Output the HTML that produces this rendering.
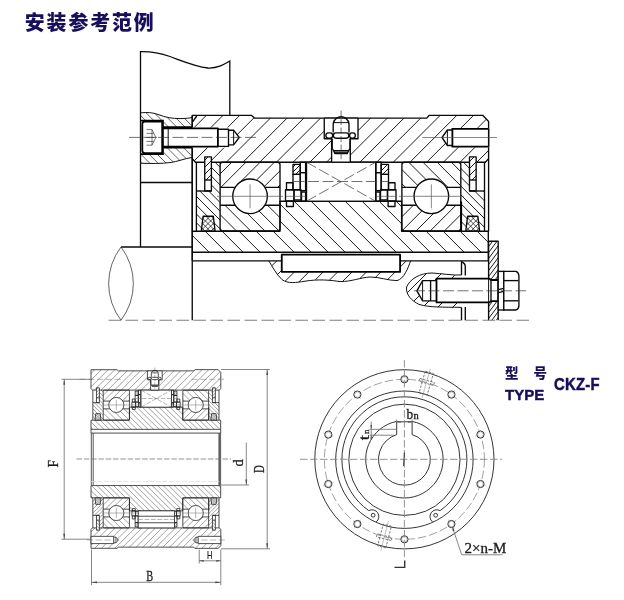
<!DOCTYPE html>
<html lang="zh-CN"><head><meta charset="utf-8"><title>安装参考范例 CKZ-F</title>
<style>
html,body{margin:0;padding:0;background:#fff;}
body{width:624px;height:600px;overflow:hidden;position:relative;font-family:"Liberation Sans","Noto Sans CJK SC",sans-serif;}
svg{position:absolute;left:0;top:0;display:block;will-change:transform;}
.k{fill:none;stroke:#0a0a0a;stroke-width:1.35;stroke-linejoin:round;stroke-linecap:butt}
.kw{fill:#fff;stroke:#0a0a0a;stroke-width:1.35}
.t{fill:none;stroke:#111;stroke-width:1.0}
.w{fill:#fff;stroke:none}
.h{fill:none;stroke:#111;stroke-width:0.95}
.h2{fill:none;stroke:#111;stroke-width:0.75}
.c{fill:none;stroke:#808080;stroke-width:1.05;stroke-dasharray:12.5 4.5}
.c2{fill:none;stroke:#555;stroke-width:0.7}
.d{fill:none;stroke:#333;stroke-width:0.7;stroke-dasharray:11 3.5}
.d2{fill:none;stroke:#333;stroke-width:0.7;stroke-dasharray:6 2.5}
.k2{fill:none;stroke:#0a0a0a;stroke-width:1.3}
.h3{fill:none;stroke:#222;stroke-width:0.7}
.kk{fill:none;stroke:#000;stroke-width:1.8}
.kkw{fill:#fff;stroke:#000;stroke-width:1.8;stroke-linejoin:round}
.t2{fill:none;stroke:#222;stroke-width:0.7}
.t3{fill:none;stroke:#222;stroke-width:0.6}
.sa .k,.sa .kk,.sa .k2{stroke-width:1.8;stroke:#202020}
.sa .kw,.sa .kkw{stroke-width:1.8;stroke:#202020}
.sa .t,.sa .t2,.sa .t3{stroke-width:1.5;stroke:#333}
.sa .h{stroke-width:1.15;stroke:#444}
.sa .h2{stroke-width:0.9;stroke:#444}
.sa .c,.sa .c2,.sa .d,.sa .d2{stroke-width:1.1;stroke:#666}
.sa .c{stroke-dasharray:14 6}
.sk{fill:none;stroke:#444;stroke-width:0.9}
.sk2{fill:none;stroke:#555;stroke-width:1.5}
.sg{fill:none;stroke:#ddd;stroke-width:0.7;stroke-dasharray:5 1.5}
.sc{fill:none;stroke:#777;stroke-width:0.8;stroke-dasharray:5.5 1.8}
.dm{fill:none;stroke:#707070;stroke-width:0.85}
.af{fill:#444;stroke:none}
.lb{font-family:"Liberation Serif",serif;fill:#1a1a1a;stroke:#1a1a1a;stroke-width:0.3}
.lbs{font-family:"Liberation Sans",sans-serif;fill:#1a1a1a;stroke:#1a1a1a;stroke-width:0.2}
.fk{fill:none;stroke:#2a2a2a;stroke-width:0.95}
.fkw{fill:#fff;stroke:#2a2a2a;stroke-width:0.95}
.fg{fill:none;stroke:#888;stroke-width:0.5}
.fd{fill:none;stroke:#777;stroke-width:0.7;stroke-dasharray:8.5 3}
.fh{fill:none;stroke:#555;stroke-width:0.7;stroke-dasharray:2.4 1.3}
.fc{fill:none;stroke:#888;stroke-width:0.9;stroke-dasharray:7.5 2.5}
.fm{fill:none;stroke:#333;stroke-width:1.4}
.ttl{position:absolute;left:24.8px;top:8.9px;height:26px;line-height:26px;font-size:19.9px;font-weight:900;color:#170f5a;letter-spacing:1.9px;white-space:nowrap;font-family:"Noto Sans CJK SC","Liberation Sans",sans-serif}
.ty1{position:absolute;left:505px;top:362px;height:20px;line-height:20px;font-size:13.5px;font-weight:900;color:#170f5a;white-space:nowrap;font-family:"Noto Sans CJK SC","Liberation Sans",sans-serif}
.ty1.b{left:533.5px}
.ty2{position:absolute;left:505px;top:385px;height:20px;line-height:20px;font-size:15px;font-weight:bold;color:#170f5a;white-space:nowrap;font-family:"Liberation Sans",sans-serif;-webkit-text-stroke:0.45px #170f5a}
.ty3{position:absolute;left:554px;top:374px;height:22px;line-height:22px;font-size:17px;font-weight:bold;color:#170f5a;white-space:nowrap;font-family:"Liberation Sans",sans-serif;transform-origin:0 50%;transform:scaleX(0.875);-webkit-text-stroke:0.5px #170f5a;letter-spacing:0.3px}
</style></head>
<body>
<svg width="624" height="600" viewBox="0 0 624 600">
<g id="install"><path class="k2" d="M140.5 247 L140.5 51.7 C150 51.5 160 53 170 56.5 C185 62 195 66.5 208 68 C217 68.5 223 65 229.8 61 L229.8 115.4"/><line class="k2" x1="140.5" y1="182.5" x2="192.25" y2="182.5"/><clipPath id="h1"><polygon points="140.5,112.9 147,112.3 153,112.8 158,114.5 166,117.3 172,118.4 180,118.6 186,118.4 192.25,117.6 192.25,127.2 162.9,127.2 162.9,120.6 140.5,120.6"/></clipPath><g clip-path="url(#h1)"><path class="h3" d="M128.2 111.3L145.1 128.2M136.4 111.3L153.3 128.2M144.6 111.3L161.5 128.2M152.8 111.3L169.7 128.2M161 111.3L177.9 128.2M169.2 111.3L186.1 128.2M177.4 111.3L194.3 128.2M185.6 111.3L202.5 128.2"/></g><clipPath id="h2"><polygon points="140.5,154.1 162.9,154.1 162.9,147.7 192.25,147.7 192.25,157.4 184,158.8 178,161.4 170,162.6 162,163.4 150,163.6 140.5,163.2"/></clipPath><g clip-path="url(#h2)"><path class="h3" d="M125.1 146.7L143 164.6M133.3 146.7L151.2 164.6M141.5 146.7L159.4 164.6M149.7 146.7L167.6 164.6M157.9 146.7L175.8 164.6M166.1 146.7L184 164.6M174.3 146.7L192.2 164.6M182.5 146.7L200.4 164.6M190.7 146.7L208.6 164.6"/></g><path class="t" d="M140.5 112.9 C147 112 153 112.6 158 114.5 C166 117.5 172 118.6 180 118.6 C186 118.6 189 118 192.25 117.6"/><path class="t" d="M140.5 163.2 C150 163.6 162 163.6 170 162.6 C178 161.6 184 158.6 192.25 157.4"/><polyline class="kk" points="140.5,120.6 162.9,120.6 162.9,127.2 192.25,127.2"/><polyline class="kk" points="140.5,154.1 162.9,154.1 162.9,147.7 192.25,147.7"/><line class="k" x1="121" y1="247" x2="192.25" y2="247"/><path class="t2" d="M121 247 A60.5 60.5 0 0 0 121 320.25"/><path class="t2" d="M121 247 A60.5 60.5 0 0 1 121 320.25"/><line class="k" x1="192.25" y1="115.4" x2="192.25" y2="320.25"/><clipPath id="h3"><polygon points="192.25,115.4 251.6,115.4 254.5,118.1 426.75,118.1 429.25,115.3 482.75,115.3 488.6,121.5 488.6,158.6 485.3,162.2 195.5,162.2 192.25,158.6"/></clipPath><g clip-path="url(#h3)"><path class="h" d="M158.5 163.2L207.4 114.3M175.2 163.2L224.1 114.3M191.9 163.2L240.8 114.3M208.6 163.2L257.5 114.3M225.3 163.2L274.2 114.3M242 163.2L290.9 114.3M258.7 163.2L307.6 114.3M275.4 163.2L324.3 114.3M292.1 163.2L341 114.3M308.8 163.2L357.7 114.3M325.5 163.2L374.4 114.3M342.2 163.2L391.1 114.3M358.9 163.2L407.8 114.3M375.6 163.2L424.5 114.3M392.3 163.2L441.2 114.3M409 163.2L457.9 114.3M425.7 163.2L474.6 114.3M442.4 163.2L491.3 114.3M459.1 163.2L508 114.3M475.8 163.2L524.7 114.3"/></g><clipPath id="h4"><polygon points="192.25,231.25 280,231.25 280,201.25 401.6,201.25 401.6,231.25 488.3,231.25 488.3,252.25 192.25,252.25"/></clipPath><g clip-path="url(#h4)"><path class="h" d="M157.15 200.25L210.15 253.25M174.15 200.25L227.15 253.25M191.15 200.25L244.15 253.25M208.15 200.25L261.15 253.25M225.15 200.25L278.15 253.25M242.15 200.25L295.15 253.25M259.15 200.25L312.15 253.25M276.15 200.25L329.15 253.25M293.15 200.25L346.15 253.25M310.15 200.25L363.15 253.25M327.15 200.25L380.15 253.25M344.15 200.25L397.15 253.25M361.15 200.25L414.15 253.25M378.15 200.25L431.15 253.25M395.15 200.25L448.15 253.25M412.15 200.25L465.15 253.25M429.15 200.25L482.15 253.25M446.15 200.25L499.15 253.25M463.15 200.25L516.15 253.25M480.15 200.25L533.15 253.25"/></g><polygon class="k" points="192.25,115.4 251.6,115.4 254.5,118.1 426.75,118.1 429.25,115.3 482.75,115.3 488.6,121.5 488.6,158.6 485.3,162.2 195.5,162.2 192.25,158.6"/><polygon class="k" points="192.25,231.25 280,231.25 280,201.25 401.6,201.25 401.6,231.25 488.3,231.25 488.3,252.25 192.25,252.25"/><line class="k" x1="192.25" y1="260.8" x2="488.3" y2="260.8"/><line class="k" x1="192.25" y1="252.25" x2="192.25" y2="260.8"/><line class="k" x1="488.3" y1="252.25" x2="488.3" y2="260.8"/><clipPath id="h5"><polygon points="196.4,191 211.4,191 211.4,162.2 220.1,162.2 220.1,231 196.4,231"/></clipPath><g clip-path="url(#h5)"><path class="h" d="M134.8 161.2L205.6 232M143.6 161.2L214.4 232M152.4 161.2L223.2 232M161.2 161.2L232 232M170 161.2L240.8 232M178.8 161.2L249.6 232M187.6 161.2L258.4 232M196.4 161.2L267.2 232M205.2 161.2L276 232M214 161.2L284.8 232"/></g><line class="k" x1="196.4" y1="162.2" x2="196.4" y2="231"/><line class="k" x1="196.4" y1="191" x2="211.4" y2="191"/><polygon class="w" points="204.75,156.9 211.4,156.9 211.4,180 204.75,180"/><clipPath id="h6"><polygon points="204.75,156.9 211.4,156.9 211.4,180 204.75,180"/></clipPath><g clip-path="url(#h6)"><path class="h" d="M184 181L209.1 155.9M191 181L216.1 155.9M198 181L223.1 155.9M205 181L230.1 155.9"/></g><rect class="k" x="204.75" y="156.9" width="6.65" height="34.1"/><line class="k" x1="204.75" y1="180" x2="211.4" y2="180"/><polygon class="w" points="203.1,216.2 213.3,216.2 215.1,231 201.3,231"/><clipPath id="h7"><polygon points="203.1,216.2 213.3,216.2 215.1,231 201.3,231"/></clipPath><g clip-path="url(#h7)"><path class="h2" d="M189.2 232L206 215.2M194.4 232L211.2 215.2M199.6 232L216.4 215.2M204.8 232L221.6 215.2M210 232L226.8 215.2"/></g><clipPath id="h8"><polygon points="203.1,216.2 213.3,216.2 215.1,231 201.3,231"/></clipPath><g clip-path="url(#h8)"><path class="h2" d="M189.2 215.2L206 232M194.4 215.2L211.2 232M199.6 215.2L216.4 232M204.8 215.2L221.6 232M210 215.2L226.8 232"/></g><polygon class="k" points="203.1,216.2 213.3,216.2 215.1,231 201.3,231"/><clipPath id="h9"><polygon points="484.5,191 469.5,191 469.5,162.2 460.8,162.2 460.8,231 484.5,231"/></clipPath><g clip-path="url(#h9)"><path class="h" d="M392 161.2L462.8 232M400.8 161.2L471.6 232M409.6 161.2L480.4 232M418.4 161.2L489.2 232M427.2 161.2L498 232M436 161.2L506.8 232M444.8 161.2L515.6 232M453.6 161.2L524.4 232M462.4 161.2L533.2 232M471.2 161.2L542 232M480 161.2L550.8 232"/></g><line class="k" x1="484.5" y1="162.2" x2="484.5" y2="231"/><line class="k" x1="484.5" y1="191" x2="469.5" y2="191"/><polygon class="w" points="476.15,156.9 469.5,156.9 469.5,180 476.15,180"/><clipPath id="h10"><polygon points="476.15,156.9 469.5,156.9 469.5,180 476.15,180"/></clipPath><g clip-path="url(#h10)"><path class="h" d="M450 181L475.1 155.9M457 181L482.1 155.9M464 181L489.1 155.9M471 181L496.1 155.9"/></g><rect class="k" x="469.5" y="156.9" width="6.65" height="34.1"/><line class="k" x1="476.15" y1="180" x2="469.5" y2="180"/><polygon class="w" points="467.6,216.2 477.8,216.2 479.6,231 465.8,231"/><clipPath id="h11"><polygon points="467.6,216.2 477.8,216.2 479.6,231 465.8,231"/></clipPath><g clip-path="url(#h11)"><path class="h2" d="M454.4 232L471.2 215.2M459.6 232L476.4 215.2M464.8 232L481.6 215.2M470 232L486.8 215.2M475.2 232L492 215.2"/></g><clipPath id="h12"><polygon points="467.6,216.2 477.8,216.2 479.6,231 465.8,231"/></clipPath><g clip-path="url(#h12)"><path class="h2" d="M454.4 215.2L471.2 232M459.6 215.2L476.4 232M464.8 215.2L481.6 232M470 215.2L486.8 232M475.2 215.2L492 232"/></g><polygon class="k" points="467.6,216.2 477.8,216.2 479.6,231 465.8,231"/><clipPath id="h13"><polygon points="220.1,162.2 280,162.2 280,187.4 220.1,187.4"/></clipPath><g clip-path="url(#h13)"><path class="h" d="M205.6 188.4L232.8 161.2M219.8 188.4L247 161.2M234 188.4L261.2 161.2M248.2 188.4L275.4 161.2M262.4 188.4L289.6 161.2M276.6 188.4L303.8 161.2"/></g><clipPath id="h14"><polygon points="220.1,205.2 280,205.2 280,231 220.1,231"/></clipPath><g clip-path="url(#h14)"><path class="h" d="M195.5 204.2L223.3 232M209.7 204.2L237.5 232M223.9 204.2L251.7 232M238.1 204.2L265.9 232M252.3 204.2L280.1 232M266.5 204.2L294.3 232"/></g><rect class="k" x="220.1" y="162.2" width="59.9" height="68.8" rx="2.5"/><line class="k" x1="220.1" y1="187.4" x2="280" y2="187.4"/><line class="k" x1="220.1" y1="205.2" x2="280" y2="205.2"/><circle class="kw" cx="250.05" cy="196.3" r="17.3"/><line class="c2" x1="217.1" y1="196.3" x2="283" y2="196.3"/><line class="c2" x1="250.05" y1="184.3" x2="250.05" y2="208.3"/><clipPath id="h15"><polygon points="401.9,162.2 460.8,162.2 460.8,187.4 401.9,187.4"/></clipPath><g clip-path="url(#h15)"><path class="h" d="M379.3 161.2L406.5 188.4M393.5 161.2L420.7 188.4M407.7 161.2L434.9 188.4M421.9 161.2L449.1 188.4M436.1 161.2L463.3 188.4M450.3 161.2L477.5 188.4"/></g><clipPath id="h16"><polygon points="401.9,205.2 460.8,205.2 460.8,231 401.9,231"/></clipPath><g clip-path="url(#h16)"><path class="h" d="M386.6 232L414.4 204.2M400.8 232L428.6 204.2M415 232L442.8 204.2M429.2 232L457 204.2M443.4 232L471.2 204.2M457.6 232L485.4 204.2"/></g><rect class="k" x="401.9" y="162.2" width="58.9" height="68.8" rx="2.5"/><line class="k" x1="401.9" y1="187.4" x2="460.8" y2="187.4"/><line class="k" x1="401.9" y1="205.2" x2="460.8" y2="205.2"/><circle class="kw" cx="431.35" cy="196.3" r="17.3"/><line class="c2" x1="398.9" y1="196.3" x2="463.8" y2="196.3"/><line class="c2" x1="431.35" y1="184.3" x2="431.35" y2="208.3"/><line class="kk" x1="461.2" y1="201.5" x2="461.2" y2="231"/><clipPath id="h17"><polygon points="293,164.4 300.3,164.4 300.3,174.4 293,174.4"/></clipPath><g clip-path="url(#h17)"><path class="h" d="M284.6 175.4L296.6 163.4M289.6 175.4L301.6 163.4M294.6 175.4L306.6 163.4"/></g><rect class="k" x="293" y="164.4" width="7.3" height="10"/><rect class="k" x="293" y="174.4" width="7.3" height="15.3"/><rect class="k" x="300.3" y="162.2" width="5.3" height="10.4"/><rect class="k" x="300.3" y="172.6" width="5.3" height="18"/><rect class="k" x="286.5" y="182.7" width="6.5" height="7"/><rect class="k" x="285.5" y="189.7" width="8.5" height="11.55"/><rect class="k" x="294" y="189.7" width="7" height="10.3"/><rect class="k" x="301.5" y="192" width="4.1" height="9.25"/><rect class="k" x="286.5" y="201.25" width="6.9" height="5.25"/><clipPath id="h18"><polygon points="381.2,164.4 388.5,164.4 388.5,174.4 381.2,174.4"/></clipPath><g clip-path="url(#h18)"><path class="h" d="M371.6 175.4L383.6 163.4M376.6 175.4L388.6 163.4M381.6 175.4L393.6 163.4M386.6 175.4L398.6 163.4"/></g><rect class="k" x="381.2" y="164.4" width="7.3" height="10"/><rect class="k" x="381.2" y="174.4" width="7.3" height="15.3"/><rect class="k" x="375.9" y="162.2" width="5.3" height="10.4"/><rect class="k" x="375.9" y="172.6" width="5.3" height="18"/><rect class="k" x="388.5" y="182.7" width="6.5" height="7"/><rect class="k" x="387.5" y="189.7" width="8.5" height="11.55"/><rect class="k" x="380.5" y="189.7" width="7" height="10.3"/><rect class="k" x="375.9" y="192" width="4.1" height="9.25"/><rect class="k" x="388.1" y="201.25" width="6.9" height="5.25"/><line class="c2" x1="286" y1="196.3" x2="306" y2="196.3"/><line class="c2" x1="376" y1="196.3" x2="396" y2="196.3"/><rect class="kw" x="306.5" y="162.2" width="69.2" height="39.05"/><line class="d" x1="306.5" y1="162.2" x2="375.7" y2="201.25"/><line class="d" x1="306.5" y1="201.25" x2="375.7" y2="162.2"/><line class="d" x1="293.5" y1="181.5" x2="388.5" y2="181.5"/><polygon class="w" points="324.25,118.1 358,118.1 358,138.75 350.3,138.75 350.3,162.2 331.6,162.2 331.6,138.75 324.25,138.75"/><polyline class="k" points="324.25,118.1 324.25,138.75 331.6,138.75 331.6,162.2"/><polyline class="k" points="358,118.1 358,138.75 350.3,138.75 350.3,162.2"/><line class="k" x1="324.25" y1="118.1" x2="358" y2="118.1"/><line class="k" x1="331.6" y1="162.2" x2="350.3" y2="162.2"/><path class="k" d="M333.2 132.6 L333.2 124 Q333.6 120.5 336 118.6 Q341.1 114.6 346.2 118.6 Q348.6 120.5 349 124 L349 132.6"/><line class="t" x1="333.4" y1="122.6" x2="348.8" y2="122.6"/><rect class="k" x="325.9" y="132.8" width="6.7" height="5.4" rx="2.4"/><rect class="k" x="333.4" y="132.8" width="15.4" height="5.4" rx="2.6"/><rect class="k" x="349.6" y="132.8" width="5.7" height="5.4" rx="2.4"/><polyline class="k" points="332.2,138.75 332.2,148.5 333.6,150.6 348.6,150.6 350,148.5 350,138.75"/><polyline class="k" points="333.6,150.6 335,153.6 347.2,153.6 348.6,150.6"/><line class="k" x1="334.6" y1="152.2" x2="347.6" y2="152.2"/><line class="d2" x1="341.1" y1="110.6" x2="341.1" y2="163"/><polygon class="w" points="192.25,127.4 228.5,127.4 228.5,130 233.5,130 239.2,137.5 233.5,145 228.5,145 228.5,147.6 192.25,147.6"/><polyline class="k" points="217.9,129.2 228.5,129.2 228.5,146.4 217.9,146.4"/><polyline class="k" points="228.5,130.2 233.6,130.2 239.2,137.5 233.6,144.8 228.5,144.8"/><line class="t" x1="233.6" y1="130.2" x2="233.6" y2="144.8"/><polygon class="w" points="488.6,128.2 452.4,128.2 452.4,130 447.4,130 442,137.5 447.4,145.5 452.4,145.5 452.4,147.2 488.6,147.2"/><polyline class="kk" points="488.6,128.8 452.4,128.8 452.4,146.6 488.6,146.6"/><polyline class="k" points="452.4,130 447.4,130 442,137.5 447.4,145.5 452.4,145.5"/><line class="t" x1="447.4" y1="130" x2="447.4" y2="145.5"/><line class="k" x1="488.6" y1="128.8" x2="488.6" y2="146.6"/><line class="c2" x1="422.4" y1="137.5" x2="497" y2="137.5"/><line class="k" x1="192.8" y1="121.6" x2="196.8" y2="116"/><line class="k" x1="192.25" y1="158.6" x2="192.25" y2="231.25"/><line class="k" x1="488.6" y1="158.6" x2="488.6" y2="231.25"/><path class="kkw" d="M144.8 121.6 L162.2 121.6 L162.2 153.1 L144.8 153.1 Q142.3 153.1 142.3 150.6 L142.3 124.1 Q142.3 121.6 144.8 121.6 Z"/><rect class="kkw" x="162.9" y="128.3" width="55" height="18.3"/><line class="t" x1="168.2" y1="128.3" x2="168.2" y2="146.6"/><path class="t3" d="M146.5 129.6 L152 129.6 L155.8 137.4 L152 145.2 L146.5 145.2 M146.5 133.4 L153.6 133.4 M146.5 141.4 L153.6 141.4 M146.5 137.4 L157 137.4 M152 129.6 L152 145.2"/><line class="d" x1="129" y1="137.4" x2="259" y2="137.4"/><clipPath id="h19"><polygon points="268.9,261 272,266 276,273 281,279 287,282.3 295,282.6 305,281.2 318,279.6 330,280.2 340,281.6 350,280.8 360,278.4 370,277 380,278 390,280 397,280.6 402,278 406,272 409,265.5 410.6,261"/></clipPath><g clip-path="url(#h19)"><path class="h" d="M254 283.6L277.6 260M268.4 283.6L292 260M282.8 283.6L306.4 260M297.2 283.6L320.8 260M311.6 283.6L335.2 260M326 283.6L349.6 260M340.4 283.6L364 260M354.8 283.6L378.4 260M369.2 283.6L392.8 260M383.6 283.6L407.2 260M398 283.6L421.6 260"/></g><path class="t" d="M268.9 261 C272 266 276 274 282 279.6 C288 284 296 282.6 305 281.2 C318 279 330 280 340 281.6 C352 281.6 360 277.6 370 277 C380 277 388 280.6 397 280.6 C404 279 408 268 410.6 261"/><rect class="kkw" x="281.75" y="254.7" width="118.35" height="17.2"/><clipPath id="h20"><polygon points="461.5,275 452,275.2 442,273.8 432,273 422,274.6 413,278 408,283 406.4,288 407.6,294 412,300 419,304.4 428,306.6 438,307.2 450,308 461.5,307.4"/></clipPath><g clip-path="url(#h20)"><path class="h" d="M376 309L413 272M391 309L428 272M406 309L443 272M421 309L458 272M436 309L473 272M451 309L488 272"/></g><path class="t" d="M461.5 275 C452 275.4 442 273.6 432 273 C420 273 410 279 406.6 287 C405.6 295 412 301 419 304.4 C430 307.6 442 307 461.5 307.4"/><polygon class="w" points="461.5,278.2 436.5,278.2 436.5,280.6 422.6,280.6 416.9,290.8 422.6,300.8 436.5,300.8 436.5,302.8 461.5,302.8"/><polyline class="k" points="436.5,280.6 422.6,280.6 416.9,290.8 422.6,300.8 436.5,300.8"/><line class="t" x1="422.6" y1="280.6" x2="422.6" y2="300.8"/><line class="k" x1="430.6" y1="280.6" x2="430.6" y2="300.8"/><path class="k" d="M461.5 261 L461.5 275 M461.5 307.4 L461.5 320.25"/><path class="k" d="M461.5 262 Q465.3 263 465.3 267 L465.3 275.5 M465.3 307 L465.3 320.25"/><clipPath id="h21"><polygon points="488.6,241.2 498.2,241.2 498.2,320.25 488.6,320.25"/></clipPath><g clip-path="url(#h21)"><path class="h" d="M432.56 321.25L493.35 240.2M437.06 321.25L497.85 240.2M441.56 321.25L502.35 240.2M446.06 321.25L506.85 240.2M450.56 321.25L511.35 240.2M455.06 321.25L515.85 240.2M459.56 321.25L520.35 240.2M464.06 321.25L524.85 240.2M468.56 321.25L529.35 240.2M473.06 321.25L533.85 240.2M477.56 321.25L538.35 240.2M482.06 321.25L542.85 240.2M486.56 321.25L547.35 240.2M491.06 321.25L551.85 240.2M495.56 321.25L556.35 240.2"/></g><polyline class="k" points="488.6,320.25 488.6,241.2 498.2,241.2 498.2,320.25"/><polygon class="kkw" points="436.5,278.7 489.5,278.7 491,280 498.2,280 498.2,301.2 491,301.2 489.5,302.4 436.5,302.4"/><line class="k" x1="491" y1="280" x2="491" y2="301.2"/><line class="t" x1="488.6" y1="278.7" x2="488.6" y2="302.4"/><rect class="kw" x="498.2" y="271.4" width="5.6" height="38.6"/><path class="k" d="M498.6 289.6 L503.6 288.4 M498.6 292.6 L503.6 291.4"/><path class="kw" d="M503.8 271.4 L516 271.4 Q518.9 272.6 518.9 276 L518.9 305.4 Q518.9 308.8 516 310 L503.8 310 Z"/><line class="k" x1="503.8" y1="280.6" x2="518.4" y2="280.6"/><line class="k" x1="503.8" y1="300.8" x2="518.4" y2="300.8"/><line class="d" x1="414" y1="290.8" x2="526" y2="290.8"/><line class="c" x1="108.5" y1="320.25" x2="531" y2="320.25"/></g>
<g id="standalone"><g id="sa-up" class="sa" transform="translate(6.8 319.39) scale(0.43800 0.43593)"><clipPath id="h22"><polygon points="192.25,115.4 251.6,115.4 254.5,118.1 426.75,118.1 429.25,115.3 482.75,115.3 488.6,121.5 488.6,158.6 485.3,162.2 195.5,162.2 192.25,158.6"/></clipPath><g clip-path="url(#h22)"><path class="h" d="M153 163.2L201.9 114.3M168.3 163.2L217.2 114.3M183.6 163.2L232.5 114.3M198.9 163.2L247.8 114.3M214.2 163.2L263.1 114.3M229.5 163.2L278.4 114.3M244.8 163.2L293.7 114.3M260.1 163.2L309 114.3M275.4 163.2L324.3 114.3M290.7 163.2L339.6 114.3M306 163.2L354.9 114.3M321.3 163.2L370.2 114.3M336.6 163.2L385.5 114.3M351.9 163.2L400.8 114.3M367.2 163.2L416.1 114.3M382.5 163.2L431.4 114.3M397.8 163.2L446.7 114.3M413.1 163.2L462 114.3M428.4 163.2L477.3 114.3M443.7 163.2L492.6 114.3M459 163.2L507.9 114.3M474.3 163.2L523.2 114.3"/></g><clipPath id="h23"><polygon points="192.25,231.25 280,231.25 280,201.25 401.6,201.25 401.6,231.25 488.3,231.25 488.3,252.25 192.25,252.25"/></clipPath><g clip-path="url(#h23)"><path class="h" d="M144.55 200.25L197.55 253.25M157.15 200.25L210.15 253.25M169.75 200.25L222.75 253.25M182.35 200.25L235.35 253.25M194.95 200.25L247.95 253.25M207.55 200.25L260.55 253.25M220.15 200.25L273.15 253.25M232.75 200.25L285.75 253.25M245.35 200.25L298.35 253.25M257.95 200.25L310.95 253.25M270.55 200.25L323.55 253.25M283.15 200.25L336.15 253.25M295.75 200.25L348.75 253.25M308.35 200.25L361.35 253.25M320.95 200.25L373.95 253.25M333.55 200.25L386.55 253.25M346.15 200.25L399.15 253.25M358.75 200.25L411.75 253.25M371.35 200.25L424.35 253.25M383.95 200.25L436.95 253.25M396.55 200.25L449.55 253.25M409.15 200.25L462.15 253.25M421.75 200.25L474.75 253.25M434.35 200.25L487.35 253.25M446.95 200.25L499.95 253.25M459.55 200.25L512.55 253.25M472.15 200.25L525.15 253.25M484.75 200.25L537.75 253.25"/></g><polygon class="k" points="192.25,115.4 251.6,115.4 254.5,118.1 426.75,118.1 429.25,115.3 482.75,115.3 488.6,121.5 488.6,158.6 485.3,162.2 195.5,162.2 192.25,158.6"/><polygon class="k" points="192.25,231.25 280,231.25 280,201.25 401.6,201.25 401.6,231.25 488.3,231.25 488.3,252.25 192.25,252.25"/><line class="k" x1="192.25" y1="260.8" x2="488.3" y2="260.8"/><line class="k" x1="192.25" y1="252.25" x2="192.25" y2="260.8"/><line class="k" x1="488.3" y1="252.25" x2="488.3" y2="260.8"/><clipPath id="h24"><polygon points="196.4,191 211.4,191 211.4,162.2 220.1,162.2 220.1,231 196.4,231"/></clipPath><g clip-path="url(#h24)"><path class="h" d="M134.8 161.2L205.6 232M143.6 161.2L214.4 232M152.4 161.2L223.2 232M161.2 161.2L232 232M170 161.2L240.8 232M178.8 161.2L249.6 232M187.6 161.2L258.4 232M196.4 161.2L267.2 232M205.2 161.2L276 232M214 161.2L284.8 232"/></g><line class="k" x1="196.4" y1="162.2" x2="196.4" y2="231"/><line class="k" x1="196.4" y1="191" x2="211.4" y2="191"/><polygon class="w" points="204.75,156.9 211.4,156.9 211.4,180 204.75,180"/><clipPath id="h25"><polygon points="204.75,156.9 211.4,156.9 211.4,180 204.75,180"/></clipPath><g clip-path="url(#h25)"><path class="h" d="M184 181L209.1 155.9M191 181L216.1 155.9M198 181L223.1 155.9M205 181L230.1 155.9"/></g><rect class="k" x="204.75" y="156.9" width="6.65" height="34.1"/><line class="k" x1="204.75" y1="180" x2="211.4" y2="180"/><polygon class="w" points="203.1,216.2 213.3,216.2 215.1,231 201.3,231"/><clipPath id="h26"><polygon points="203.1,216.2 213.3,216.2 215.1,231 201.3,231"/></clipPath><g clip-path="url(#h26)"><path class="h2" d="M189.2 232L206 215.2M194.4 232L211.2 215.2M199.6 232L216.4 215.2M204.8 232L221.6 215.2M210 232L226.8 215.2"/></g><clipPath id="h27"><polygon points="203.1,216.2 213.3,216.2 215.1,231 201.3,231"/></clipPath><g clip-path="url(#h27)"><path class="h2" d="M189.2 215.2L206 232M194.4 215.2L211.2 232M199.6 215.2L216.4 232M204.8 215.2L221.6 232M210 215.2L226.8 232"/></g><polygon class="k" points="203.1,216.2 213.3,216.2 215.1,231 201.3,231"/><clipPath id="h28"><polygon points="484.5,191 469.5,191 469.5,162.2 460.8,162.2 460.8,231 484.5,231"/></clipPath><g clip-path="url(#h28)"><path class="h" d="M392 161.2L462.8 232M400.8 161.2L471.6 232M409.6 161.2L480.4 232M418.4 161.2L489.2 232M427.2 161.2L498 232M436 161.2L506.8 232M444.8 161.2L515.6 232M453.6 161.2L524.4 232M462.4 161.2L533.2 232M471.2 161.2L542 232M480 161.2L550.8 232"/></g><line class="k" x1="484.5" y1="162.2" x2="484.5" y2="231"/><line class="k" x1="484.5" y1="191" x2="469.5" y2="191"/><polygon class="w" points="476.15,156.9 469.5,156.9 469.5,180 476.15,180"/><clipPath id="h29"><polygon points="476.15,156.9 469.5,156.9 469.5,180 476.15,180"/></clipPath><g clip-path="url(#h29)"><path class="h" d="M450 181L475.1 155.9M457 181L482.1 155.9M464 181L489.1 155.9M471 181L496.1 155.9"/></g><rect class="k" x="469.5" y="156.9" width="6.65" height="34.1"/><line class="k" x1="476.15" y1="180" x2="469.5" y2="180"/><polygon class="w" points="467.6,216.2 477.8,216.2 479.6,231 465.8,231"/><clipPath id="h30"><polygon points="467.6,216.2 477.8,216.2 479.6,231 465.8,231"/></clipPath><g clip-path="url(#h30)"><path class="h2" d="M454.4 232L471.2 215.2M459.6 232L476.4 215.2M464.8 232L481.6 215.2M470 232L486.8 215.2M475.2 232L492 215.2"/></g><clipPath id="h31"><polygon points="467.6,216.2 477.8,216.2 479.6,231 465.8,231"/></clipPath><g clip-path="url(#h31)"><path class="h2" d="M454.4 215.2L471.2 232M459.6 215.2L476.4 232M464.8 215.2L481.6 232M470 215.2L486.8 232M475.2 215.2L492 232"/></g><polygon class="k" points="467.6,216.2 477.8,216.2 479.6,231 465.8,231"/><clipPath id="h32"><polygon points="220.1,162.2 280,162.2 280,187.4 220.1,187.4"/></clipPath><g clip-path="url(#h32)"><path class="h" d="M205.6 188.4L232.8 161.2M219.8 188.4L247 161.2M234 188.4L261.2 161.2M248.2 188.4L275.4 161.2M262.4 188.4L289.6 161.2M276.6 188.4L303.8 161.2"/></g><clipPath id="h33"><polygon points="220.1,205.2 280,205.2 280,231 220.1,231"/></clipPath><g clip-path="url(#h33)"><path class="h" d="M195.5 204.2L223.3 232M209.7 204.2L237.5 232M223.9 204.2L251.7 232M238.1 204.2L265.9 232M252.3 204.2L280.1 232M266.5 204.2L294.3 232"/></g><rect class="k" x="220.1" y="162.2" width="59.9" height="68.8" rx="2.5"/><line class="k" x1="220.1" y1="187.4" x2="280" y2="187.4"/><line class="k" x1="220.1" y1="205.2" x2="280" y2="205.2"/><circle class="kw" cx="250.05" cy="196.3" r="17.3"/><line class="c2" x1="217.1" y1="196.3" x2="283" y2="196.3"/><line class="c2" x1="250.05" y1="184.3" x2="250.05" y2="208.3"/><clipPath id="h34"><polygon points="401.9,162.2 460.8,162.2 460.8,187.4 401.9,187.4"/></clipPath><g clip-path="url(#h34)"><path class="h" d="M379.3 161.2L406.5 188.4M393.5 161.2L420.7 188.4M407.7 161.2L434.9 188.4M421.9 161.2L449.1 188.4M436.1 161.2L463.3 188.4M450.3 161.2L477.5 188.4"/></g><clipPath id="h35"><polygon points="401.9,205.2 460.8,205.2 460.8,231 401.9,231"/></clipPath><g clip-path="url(#h35)"><path class="h" d="M386.6 232L414.4 204.2M400.8 232L428.6 204.2M415 232L442.8 204.2M429.2 232L457 204.2M443.4 232L471.2 204.2M457.6 232L485.4 204.2"/></g><rect class="k" x="401.9" y="162.2" width="58.9" height="68.8" rx="2.5"/><line class="k" x1="401.9" y1="187.4" x2="460.8" y2="187.4"/><line class="k" x1="401.9" y1="205.2" x2="460.8" y2="205.2"/><circle class="kw" cx="431.35" cy="196.3" r="17.3"/><line class="c2" x1="398.9" y1="196.3" x2="463.8" y2="196.3"/><line class="c2" x1="431.35" y1="184.3" x2="431.35" y2="208.3"/><line class="kk" x1="461.2" y1="201.5" x2="461.2" y2="231"/><clipPath id="h36"><polygon points="293,164.4 300.3,164.4 300.3,174.4 293,174.4"/></clipPath><g clip-path="url(#h36)"><path class="h" d="M284.6 175.4L296.6 163.4M289.6 175.4L301.6 163.4M294.6 175.4L306.6 163.4"/></g><rect class="k" x="293" y="164.4" width="7.3" height="10"/><rect class="k" x="293" y="174.4" width="7.3" height="15.3"/><rect class="k" x="300.3" y="162.2" width="5.3" height="10.4"/><rect class="k" x="300.3" y="172.6" width="5.3" height="18"/><rect class="k" x="286.5" y="182.7" width="6.5" height="7"/><rect class="k" x="285.5" y="189.7" width="8.5" height="11.55"/><rect class="k" x="294" y="189.7" width="7" height="10.3"/><rect class="k" x="301.5" y="192" width="4.1" height="9.25"/><rect class="k" x="286.5" y="201.25" width="6.9" height="5.25"/><clipPath id="h37"><polygon points="381.2,164.4 388.5,164.4 388.5,174.4 381.2,174.4"/></clipPath><g clip-path="url(#h37)"><path class="h" d="M371.6 175.4L383.6 163.4M376.6 175.4L388.6 163.4M381.6 175.4L393.6 163.4M386.6 175.4L398.6 163.4"/></g><rect class="k" x="381.2" y="164.4" width="7.3" height="10"/><rect class="k" x="381.2" y="174.4" width="7.3" height="15.3"/><rect class="k" x="375.9" y="162.2" width="5.3" height="10.4"/><rect class="k" x="375.9" y="172.6" width="5.3" height="18"/><rect class="k" x="388.5" y="182.7" width="6.5" height="7"/><rect class="k" x="387.5" y="189.7" width="8.5" height="11.55"/><rect class="k" x="380.5" y="189.7" width="7" height="10.3"/><rect class="k" x="375.9" y="192" width="4.1" height="9.25"/><rect class="k" x="388.1" y="201.25" width="6.9" height="5.25"/><line class="c2" x1="286" y1="196.3" x2="306" y2="196.3"/><line class="c2" x1="376" y1="196.3" x2="396" y2="196.3"/><rect class="kw" x="306.5" y="162.2" width="69.2" height="39.05"/><line class="d" x1="306.5" y1="162.2" x2="375.7" y2="201.25"/><line class="d" x1="306.5" y1="201.25" x2="375.7" y2="162.2"/><line class="d" x1="293.5" y1="181.5" x2="388.5" y2="181.5"/><g transform="translate(-3.2 0)"><polygon class="w" points="324.25,118.1 358,118.1 358,138.75 350.3,138.75 350.3,162.2 331.6,162.2 331.6,138.75 324.25,138.75"/><polyline class="k" points="324.25,118.1 324.25,138.75 331.6,138.75 331.6,162.2"/><polyline class="k" points="358,118.1 358,138.75 350.3,138.75 350.3,162.2"/><line class="k" x1="324.25" y1="118.1" x2="358" y2="118.1"/><line class="k" x1="331.6" y1="162.2" x2="350.3" y2="162.2"/><path class="k" d="M333.2 132.6 L333.2 124 Q333.6 120.5 336 118.6 Q341.1 114.6 346.2 118.6 Q348.6 120.5 349 124 L349 132.6"/><line class="t" x1="333.4" y1="122.6" x2="348.8" y2="122.6"/><rect class="k" x="325.9" y="132.8" width="6.7" height="5.4" rx="2.4"/><rect class="k" x="333.4" y="132.8" width="15.4" height="5.4" rx="2.6"/><rect class="k" x="349.6" y="132.8" width="5.7" height="5.4" rx="2.4"/><polyline class="k" points="332.2,138.75 332.2,148.5 333.6,150.6 348.6,150.6 350,148.5 350,138.75"/><polyline class="k" points="333.6,150.6 335,153.6 347.2,153.6 348.6,150.6"/><line class="k" x1="334.6" y1="152.2" x2="347.6" y2="152.2"/><line class="d2" x1="341.1" y1="110.6" x2="341.1" y2="163"/></g><line class="c" x1="166" y1="137.5" x2="262" y2="137.5"/><line class="c" x1="422" y1="137.5" x2="500" y2="137.5"/></g><g id="sa-dn" class="sa" transform="translate(6.8 598.61) scale(0.43800 -0.43593)"><clipPath id="h38"><polygon points="192.25,115.4 251.6,115.4 254.5,118.1 426.75,118.1 429.25,115.3 482.75,115.3 488.6,121.5 488.6,158.6 485.3,162.2 195.5,162.2 192.25,158.6"/></clipPath><g clip-path="url(#h38)"><path class="h" d="M153.7 114.3L202.6 163.2M169 114.3L217.9 163.2M184.3 114.3L233.2 163.2M199.6 114.3L248.5 163.2M214.9 114.3L263.8 163.2M230.2 114.3L279.1 163.2M245.5 114.3L294.4 163.2M260.8 114.3L309.7 163.2M276.1 114.3L325 163.2M291.4 114.3L340.3 163.2M306.7 114.3L355.6 163.2M322 114.3L370.9 163.2M337.3 114.3L386.2 163.2M352.6 114.3L401.5 163.2M367.9 114.3L416.8 163.2M383.2 114.3L432.1 163.2M398.5 114.3L447.4 163.2M413.8 114.3L462.7 163.2M429.1 114.3L478 163.2M444.4 114.3L493.3 163.2M459.7 114.3L508.6 163.2M475 114.3L523.9 163.2"/></g><clipPath id="h39"><polygon points="192.25,231.25 280,231.25 280,201.25 401.6,201.25 401.6,231.25 488.3,231.25 488.3,259.3 192.25,259.3"/></clipPath><g clip-path="url(#h39)"><path class="h" d="M141.9 260.3L201.95 200.25M154.5 260.3L214.55 200.25M167.1 260.3L227.15 200.25M179.7 260.3L239.75 200.25M192.3 260.3L252.35 200.25M204.9 260.3L264.95 200.25M217.5 260.3L277.55 200.25M230.1 260.3L290.15 200.25M242.7 260.3L302.75 200.25M255.3 260.3L315.35 200.25M267.9 260.3L327.95 200.25M280.5 260.3L340.55 200.25M293.1 260.3L353.15 200.25M305.7 260.3L365.75 200.25M318.3 260.3L378.35 200.25M330.9 260.3L390.95 200.25M343.5 260.3L403.55 200.25M356.1 260.3L416.15 200.25M368.7 260.3L428.75 200.25M381.3 260.3L441.35 200.25M393.9 260.3L453.95 200.25M406.5 260.3L466.55 200.25M419.1 260.3L479.15 200.25M431.7 260.3L491.75 200.25M444.3 260.3L504.35 200.25M456.9 260.3L516.95 200.25M469.5 260.3L529.55 200.25M482.1 260.3L542.15 200.25"/></g><polygon class="k" points="192.25,115.4 251.6,115.4 254.5,118.1 426.75,118.1 429.25,115.3 482.75,115.3 488.6,121.5 488.6,158.6 485.3,162.2 195.5,162.2 192.25,158.6"/><polygon class="k" points="192.25,231.25 280,231.25 280,201.25 401.6,201.25 401.6,231.25 488.3,231.25 488.3,259.3 192.25,259.3"/><clipPath id="h40"><polygon points="196.4,191 211.4,191 211.4,162.2 220.1,162.2 220.1,231 196.4,231"/></clipPath><g clip-path="url(#h40)"><path class="h" d="M134.8 161.2L205.6 232M143.6 161.2L214.4 232M152.4 161.2L223.2 232M161.2 161.2L232 232M170 161.2L240.8 232M178.8 161.2L249.6 232M187.6 161.2L258.4 232M196.4 161.2L267.2 232M205.2 161.2L276 232M214 161.2L284.8 232"/></g><line class="k" x1="196.4" y1="162.2" x2="196.4" y2="231"/><line class="k" x1="196.4" y1="191" x2="211.4" y2="191"/><polygon class="w" points="204.75,156.9 211.4,156.9 211.4,180 204.75,180"/><clipPath id="h41"><polygon points="204.75,156.9 211.4,156.9 211.4,180 204.75,180"/></clipPath><g clip-path="url(#h41)"><path class="h" d="M184 181L209.1 155.9M191 181L216.1 155.9M198 181L223.1 155.9M205 181L230.1 155.9"/></g><rect class="k" x="204.75" y="156.9" width="6.65" height="34.1"/><line class="k" x1="204.75" y1="180" x2="211.4" y2="180"/><polygon class="w" points="203.1,216.2 213.3,216.2 215.1,231 201.3,231"/><clipPath id="h42"><polygon points="203.1,216.2 213.3,216.2 215.1,231 201.3,231"/></clipPath><g clip-path="url(#h42)"><path class="h2" d="M189.2 232L206 215.2M194.4 232L211.2 215.2M199.6 232L216.4 215.2M204.8 232L221.6 215.2M210 232L226.8 215.2"/></g><clipPath id="h43"><polygon points="203.1,216.2 213.3,216.2 215.1,231 201.3,231"/></clipPath><g clip-path="url(#h43)"><path class="h2" d="M189.2 215.2L206 232M194.4 215.2L211.2 232M199.6 215.2L216.4 232M204.8 215.2L221.6 232M210 215.2L226.8 232"/></g><polygon class="k" points="203.1,216.2 213.3,216.2 215.1,231 201.3,231"/><clipPath id="h44"><polygon points="484.5,191 469.5,191 469.5,162.2 460.8,162.2 460.8,231 484.5,231"/></clipPath><g clip-path="url(#h44)"><path class="h" d="M392 161.2L462.8 232M400.8 161.2L471.6 232M409.6 161.2L480.4 232M418.4 161.2L489.2 232M427.2 161.2L498 232M436 161.2L506.8 232M444.8 161.2L515.6 232M453.6 161.2L524.4 232M462.4 161.2L533.2 232M471.2 161.2L542 232M480 161.2L550.8 232"/></g><line class="k" x1="484.5" y1="162.2" x2="484.5" y2="231"/><line class="k" x1="484.5" y1="191" x2="469.5" y2="191"/><polygon class="w" points="476.15,156.9 469.5,156.9 469.5,180 476.15,180"/><clipPath id="h45"><polygon points="476.15,156.9 469.5,156.9 469.5,180 476.15,180"/></clipPath><g clip-path="url(#h45)"><path class="h" d="M450 181L475.1 155.9M457 181L482.1 155.9M464 181L489.1 155.9M471 181L496.1 155.9"/></g><rect class="k" x="469.5" y="156.9" width="6.65" height="34.1"/><line class="k" x1="476.15" y1="180" x2="469.5" y2="180"/><polygon class="w" points="467.6,216.2 477.8,216.2 479.6,231 465.8,231"/><clipPath id="h46"><polygon points="467.6,216.2 477.8,216.2 479.6,231 465.8,231"/></clipPath><g clip-path="url(#h46)"><path class="h2" d="M454.4 232L471.2 215.2M459.6 232L476.4 215.2M464.8 232L481.6 215.2M470 232L486.8 215.2M475.2 232L492 215.2"/></g><clipPath id="h47"><polygon points="467.6,216.2 477.8,216.2 479.6,231 465.8,231"/></clipPath><g clip-path="url(#h47)"><path class="h2" d="M454.4 215.2L471.2 232M459.6 215.2L476.4 232M464.8 215.2L481.6 232M470 215.2L486.8 232M475.2 215.2L492 232"/></g><polygon class="k" points="467.6,216.2 477.8,216.2 479.6,231 465.8,231"/><clipPath id="h48"><polygon points="220.1,162.2 280,162.2 280,187.4 220.1,187.4"/></clipPath><g clip-path="url(#h48)"><path class="h" d="M205.6 188.4L232.8 161.2M219.8 188.4L247 161.2M234 188.4L261.2 161.2M248.2 188.4L275.4 161.2M262.4 188.4L289.6 161.2M276.6 188.4L303.8 161.2"/></g><clipPath id="h49"><polygon points="220.1,205.2 280,205.2 280,231 220.1,231"/></clipPath><g clip-path="url(#h49)"><path class="h" d="M195.5 204.2L223.3 232M209.7 204.2L237.5 232M223.9 204.2L251.7 232M238.1 204.2L265.9 232M252.3 204.2L280.1 232M266.5 204.2L294.3 232"/></g><rect class="k" x="220.1" y="162.2" width="59.9" height="68.8" rx="2.5"/><line class="k" x1="220.1" y1="187.4" x2="280" y2="187.4"/><line class="k" x1="220.1" y1="205.2" x2="280" y2="205.2"/><circle class="kw" cx="250.05" cy="196.3" r="17.3"/><line class="c2" x1="217.1" y1="196.3" x2="283" y2="196.3"/><line class="c2" x1="250.05" y1="184.3" x2="250.05" y2="208.3"/><clipPath id="h50"><polygon points="401.9,162.2 460.8,162.2 460.8,187.4 401.9,187.4"/></clipPath><g clip-path="url(#h50)"><path class="h" d="M379.3 161.2L406.5 188.4M393.5 161.2L420.7 188.4M407.7 161.2L434.9 188.4M421.9 161.2L449.1 188.4M436.1 161.2L463.3 188.4M450.3 161.2L477.5 188.4"/></g><clipPath id="h51"><polygon points="401.9,205.2 460.8,205.2 460.8,231 401.9,231"/></clipPath><g clip-path="url(#h51)"><path class="h" d="M386.6 232L414.4 204.2M400.8 232L428.6 204.2M415 232L442.8 204.2M429.2 232L457 204.2M443.4 232L471.2 204.2M457.6 232L485.4 204.2"/></g><rect class="k" x="401.9" y="162.2" width="58.9" height="68.8" rx="2.5"/><line class="k" x1="401.9" y1="187.4" x2="460.8" y2="187.4"/><line class="k" x1="401.9" y1="205.2" x2="460.8" y2="205.2"/><circle class="kw" cx="431.35" cy="196.3" r="17.3"/><line class="c2" x1="398.9" y1="196.3" x2="463.8" y2="196.3"/><line class="c2" x1="431.35" y1="184.3" x2="431.35" y2="208.3"/><line class="kk" x1="461.2" y1="201.5" x2="461.2" y2="231"/><clipPath id="h52"><polygon points="293,164.4 300.3,164.4 300.3,174.4 293,174.4"/></clipPath><g clip-path="url(#h52)"><path class="h" d="M284.6 175.4L296.6 163.4M289.6 175.4L301.6 163.4M294.6 175.4L306.6 163.4"/></g><rect class="k" x="293" y="164.4" width="7.3" height="10"/><rect class="k" x="293" y="174.4" width="7.3" height="15.3"/><rect class="k" x="300.3" y="162.2" width="5.3" height="10.4"/><rect class="k" x="300.3" y="172.6" width="5.3" height="18"/><rect class="k" x="286.5" y="182.7" width="6.5" height="7"/><rect class="k" x="285.5" y="189.7" width="8.5" height="11.55"/><rect class="k" x="294" y="189.7" width="7" height="10.3"/><rect class="k" x="301.5" y="192" width="4.1" height="9.25"/><rect class="k" x="286.5" y="201.25" width="6.9" height="5.25"/><clipPath id="h53"><polygon points="381.2,164.4 388.5,164.4 388.5,174.4 381.2,174.4"/></clipPath><g clip-path="url(#h53)"><path class="h" d="M371.6 175.4L383.6 163.4M376.6 175.4L388.6 163.4M381.6 175.4L393.6 163.4M386.6 175.4L398.6 163.4"/></g><rect class="k" x="381.2" y="164.4" width="7.3" height="10"/><rect class="k" x="381.2" y="174.4" width="7.3" height="15.3"/><rect class="k" x="375.9" y="162.2" width="5.3" height="10.4"/><rect class="k" x="375.9" y="172.6" width="5.3" height="18"/><rect class="k" x="388.5" y="182.7" width="6.5" height="7"/><rect class="k" x="387.5" y="189.7" width="8.5" height="11.55"/><rect class="k" x="380.5" y="189.7" width="7" height="10.3"/><rect class="k" x="375.9" y="192" width="4.1" height="9.25"/><rect class="k" x="388.1" y="201.25" width="6.9" height="5.25"/><line class="c2" x1="286" y1="196.3" x2="306" y2="196.3"/><line class="c2" x1="376" y1="196.3" x2="396" y2="196.3"/><rect class="kw" x="300" y="162.2" width="83" height="39.05"/><line class="k" x1="300" y1="174" x2="383" y2="174"/><line class="k" x1="300" y1="189" x2="383" y2="189"/><line class="d" x1="300" y1="181.5" x2="383" y2="181.5"/><g transform="translate(0 -3)"><polygon class="w" points="192.25,129.2 244,129.2 244,131 249,131 254.5,137.5 249,144 244,144 244,145.8 192.25,145.8"/><polyline class="k" points="192.25,129.2 244,129.2 244,145.8 192.25,145.8"/><polyline class="k" points="244,131 249,131 254.5,137.5 249,144 244,144"/><line class="t" x1="249" y1="131" x2="249" y2="144"/><line class="k" x1="192.25" y1="129.2" x2="192.25" y2="145.8"/><line class="c" x1="183" y1="137.5" x2="262" y2="137.5"/></g><g transform="translate(0 -3)"><polygon class="w" points="488.65,129.2 436.9,129.2 436.9,131 431.9,131 426.4,137.5 431.9,144 436.9,144 436.9,145.8 488.65,145.8"/><polyline class="k" points="488.65,129.2 436.9,129.2 436.9,145.8 488.65,145.8"/><polyline class="k" points="436.9,131 431.9,131 426.4,137.5 431.9,144 436.9,144"/><line class="t" x1="431.9" y1="131" x2="431.9" y2="144"/><line class="k" x1="488.65" y1="129.2" x2="488.65" y2="145.8"/><line class="c" x1="497.9" y1="137.5" x2="418.9" y2="137.5"/></g></g><line class="sk" x1="91.3" y1="433.08" x2="91.3" y2="484.92"/><line class="sk" x1="93.2" y1="433.08" x2="93.2" y2="484.92"/><line class="sk" x1="220.6" y1="433.08" x2="220.6" y2="484.92"/><line class="sk2" x1="219.2" y1="433.08" x2="219.2" y2="484.92"/><line class="sg" x1="91" y1="481.52" x2="220.8" y2="481.52"/><line class="sc" x1="76.5" y1="459" x2="231" y2="459"/><line class="dm" x1="61.5" y1="379.3" x2="91.4" y2="379.3"/><line class="dm" x1="61.5" y1="539.2" x2="91.4" y2="539.2"/><line class="dm" x1="64.2" y1="379.3" x2="64.2" y2="539.2"/><polygon class="af" points="64.2,379.3 65.1,384.8 63.3,384.8"/><polygon class="af" points="64.2,539.2 63.3,533.7 65.1,533.7"/><text class="lb" font-size="15.5" transform="translate(57.6 467.4) rotate(-90) scale(0.86 1)">F</text><line class="dm" x1="221" y1="369.5" x2="270" y2="369.5"/><line class="dm" x1="221" y1="548.8" x2="270" y2="548.8"/><line class="dm" x1="267.2" y1="369.5" x2="267.2" y2="548.8"/><polygon class="af" points="267.2,369.5 268.1,375 266.3,375"/><polygon class="af" points="267.2,548.8 266.3,543.3 268.1,543.3"/><text class="lb" font-size="14" transform="translate(264.3 473.1) rotate(-90) scale(0.77 1)">D</text><line class="dm" x1="246.3" y1="442.5" x2="246.3" y2="485"/><line class="dm" x1="221" y1="485" x2="249" y2="485"/><polygon class="af" points="246.3,485 245.4,479.5 247.2,479.5"/><text class="lb" font-size="15.5" transform="translate(243.1 466.4) rotate(-90) scale(0.93 1)">d</text><line class="dm" x1="199.2" y1="549.5" x2="199.2" y2="563.5"/><line class="dm" x1="220.8" y1="549.5" x2="220.8" y2="585.2"/><line class="dm" x1="91.5" y1="549.5" x2="91.5" y2="585.2"/><line class="dm" x1="199.2" y1="560.8" x2="220.8" y2="560.8"/><polygon class="af" points="199.2,560.8 203.7,559.9 203.7,561.7"/><polygon class="af" points="220.8,560.8 216.3,561.7 216.3,559.9"/><line class="dm" x1="91.5" y1="582.3" x2="220.8" y2="582.3"/><polygon class="af" points="91.5,582.3 97,581.4 97,583.2"/><polygon class="af" points="220.8,582.3 215.3,583.2 215.3,581.4"/><text class="lbs" font-size="10.4" transform="translate(207 558.8) rotate(0) scale(0.72 1)">H</text><text class="lb" font-size="15.2" transform="translate(146.2 580.9) rotate(0) scale(0.68 1)">B</text></g>
<g id="front"><circle class="fk" cx="404.4" cy="459.3" r="89.6"/><circle class="fd" cx="404.4" cy="459.3" r="80"/><circle class="fk" cx="404.4" cy="459.7" r="68.7"/><circle class="fk" cx="404.4" cy="459.8" r="55.6"/><path class="fk" d="M440.07 510.62 A62.5 62.5 0 1 0 368.73 510.62"/><path class="fk" d="M440.07 510.62 A6.8 6.8 0 0 0 432.52 521.87"/><circle class="fk" cx="435.67" cy="515.25" r="1.9"/><path class="fk" d="M368.73 510.62 A6.8 6.8 0 0 1 376.28 521.87"/><circle class="fk" cx="373.13" cy="515.25" r="1.9"/><path class="fk" d="M412.1 421.37 A38.7 38.7 0 1 1 396.7 421.37"/><path class="fk" d="M412.1 434.57 A25.9 25.9 0 1 1 396.7 434.57 L396.7 421.8 L412.1 421.8 Z"/><line class="fg" x1="404.4" y1="384.7" x2="404.4" y2="373.9"/><circle class="fkw" cx="404.4" cy="379.3" r="3.6"/><circle class="fg" cx="404.4" cy="379.3" r="2.7"/><line class="fg" x1="448.25" y1="398.95" x2="454.6" y2="390.21"/><circle class="fkw" cx="451.42" cy="394.58" r="3.6"/><circle class="fg" cx="451.42" cy="394.58" r="2.7"/><line class="fg" x1="475.35" y1="436.25" x2="485.62" y2="432.91"/><circle class="fkw" cx="480.48" cy="434.58" r="3.6"/><circle class="fg" cx="480.48" cy="434.58" r="2.7"/><line class="fg" x1="475.35" y1="482.35" x2="485.62" y2="485.69"/><circle class="fkw" cx="480.48" cy="484.02" r="3.6"/><circle class="fg" cx="480.48" cy="484.02" r="2.7"/><line class="fg" x1="448.25" y1="519.65" x2="454.6" y2="528.39"/><circle class="fkw" cx="451.42" cy="524.02" r="3.6"/><circle class="fg" cx="451.42" cy="524.02" r="2.7"/><line class="fg" x1="404.4" y1="533.9" x2="404.4" y2="544.7"/><circle class="fkw" cx="404.4" cy="539.3" r="3.6"/><circle class="fg" cx="404.4" cy="539.3" r="2.7"/><line class="fg" x1="360.55" y1="519.65" x2="354.2" y2="528.39"/><circle class="fkw" cx="357.38" cy="524.02" r="3.6"/><circle class="fg" cx="357.38" cy="524.02" r="2.7"/><line class="fg" x1="333.45" y1="482.35" x2="323.18" y2="485.69"/><circle class="fkw" cx="328.32" cy="484.02" r="3.6"/><circle class="fg" cx="328.32" cy="484.02" r="2.7"/><line class="fg" x1="333.45" y1="436.25" x2="323.18" y2="432.91"/><circle class="fkw" cx="328.32" cy="434.58" r="3.6"/><circle class="fg" cx="328.32" cy="434.58" r="2.7"/><line class="fg" x1="360.55" y1="398.95" x2="354.2" y2="390.21"/><circle class="fkw" cx="357.38" cy="394.58" r="3.6"/><circle class="fg" cx="357.38" cy="394.58" r="2.7"/><g transform="translate(404.4 459.3) rotate(16.0)"><rect class="fh" x="-4.2" y="-90.5" width="8.4" height="22.5"/><rect class="fh" x="-7.6" y="-82" width="15.2" height="3"/><line class="fg" x1="0" y1="-94" x2="0" y2="-64"/></g><g transform="translate(404.4 459.3) rotate(194.5)"><rect class="fh" x="-4.2" y="-90.5" width="8.4" height="22.5"/><rect class="fh" x="-7.6" y="-82" width="15.2" height="3"/><line class="fg" x1="0" y1="-94" x2="0" y2="-64"/></g><line class="fc" x1="300" y1="459.3" x2="502" y2="459.3"/><line class="fc" x1="404.4" y1="360" x2="404.4" y2="557"/><line class="fk" x1="404.4" y1="452.5" x2="403.6" y2="466"/><polyline class="fm" points="404.7,560.6 404.7,567.4 394.5,567.4"/><line class="dm" x1="396.7" y1="421.8" x2="396.7" y2="419.5"/><line class="dm" x1="412.1" y1="421.8" x2="412.1" y2="419.5"/><polygon class="af" points="396.7,422 400.7,421.2 400.7,422.8"/><polygon class="af" points="412.1,422 408.1,422.8 408.1,421.2"/><text class="lb" font-size="14.8" transform="translate(406.4 418.5) rotate(0) scale(0.9 1)">b</text><text class="lb" font-size="9.5" transform="translate(413.6 418.7) rotate(0) scale(1.1 1)">n</text><line class="dm" x1="371.2" y1="421.5" x2="371.2" y2="438"/><line class="dm" x1="369.6" y1="429.3" x2="396.7" y2="429.3"/><line class="dm" x1="369.6" y1="435.2" x2="394" y2="435.2"/><polygon class="af" points="371.2,429.3 370.4,425.3 372,425.3"/><polygon class="af" points="371.2,435.2 372,439.2 370.4,439.2"/><text class="lb" font-size="14" transform="translate(368.8 440.2) rotate(-90) scale(1.3 1)">t</text><text class="lb" font-size="9" transform="translate(368.9 434) rotate(-90) scale(1 1)">n</text><polyline class="dm" points="452.6,527.6 461.7,554.8 502.6,554.8"/><polygon class="af" points="452.3,526.6 454.58,530.58 452.87,531.15"/><text class="lb" font-size="15" transform="translate(464.6 552.6) rotate(0) scale(1 1)">2×n-M</text></g>
</svg>
<div class="ttl">安装参考范例</div>
<div class="ty1">型</div><div class="ty1 b">号</div>
<div class="ty2">TYPE</div>
<div class="ty3">CKZ-F</div>
</body></html>
